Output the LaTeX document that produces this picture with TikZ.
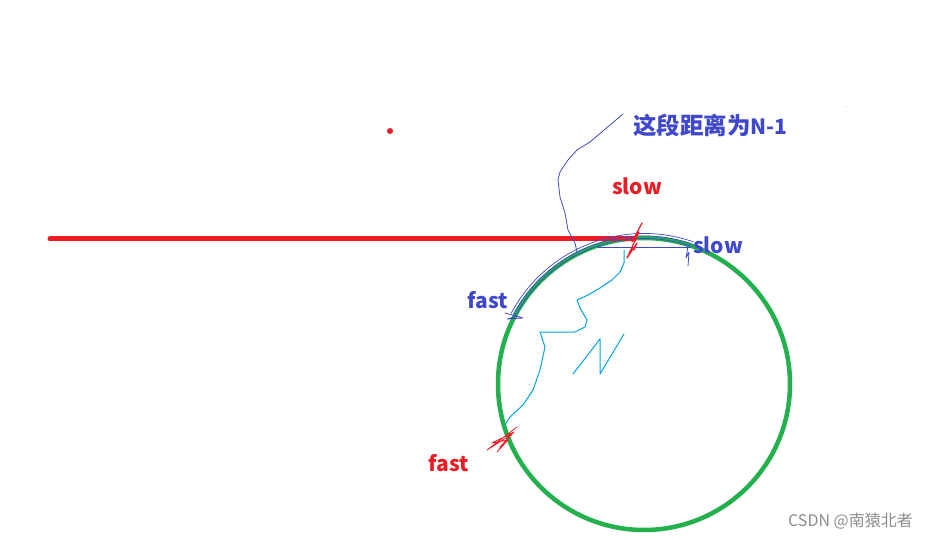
\documentclass[tikz,border=0pt]{standalone}
\usepackage{fontspec}
\setmainfont{Noto Sans CJK SC}
\newfontfamily\cjk{Noto Sans CJK SC}
\usetikzlibrary{positioning,calc}
\definecolor{penred}{RGB}{237,28,36}
\definecolor{penblue}{RGB}{63,72,204}
\definecolor{pencyan}{RGB}{0,162,232}
\definecolor{pengreen}{RGB}{34,177,76}
\tikzset
{
    label red/.style  = {text=penred, font=\cjk\bfseries\fontsize{21}{24}\selectfont, inner sep=0pt},
    label blue/.style = {text=penblue, font=\cjk\bfseries\fontsize{21}{24}\selectfont, inner sep=0pt},
    stroke/.style     = {line width=1pt, line join=round, line cap=round},
    track/.style      = {draw=pengreen, line width=4.5pt},
    tail/.style       = {draw=penred, line width=5pt, line cap=round}
}

\begin{document}
\begin{tikzpicture}[x=1pt, y=-1pt]
   \useasboundingbox (0, 0) rectangle (929, 540);

   % ring and tail
   \coordinate (o)      at (644, 384);
   \coordinate (start)  at (50, 239);
   \coordinate (entry)  at (634, 239);
   \draw[track] (o) circle (146);
   \draw[tail] (start) -- (entry);
   \fill[penred] (390, 131) circle (3);
   \fill[black!40] (846, 107) circle (0.5);

   % texts
   \node (dist)  [label blue, anchor=west] at (633, 125) {{\fontsize{23.5}{26}\selectfont 这段距离为}N-1};
   \node (sred)  [label red]               at (637, 186) {slow};
   \node (sblue) [label blue]              at (718, 245) {slow};
   \node (fblue) [label blue]              at (488, 300) {fast};
   \node (fred)  [label red]               at (449, 463) {fast};
   \node (mark)  [text=black!45, font=\cjk\fontsize{16}{18}\selectfont, anchor=east, inner sep=0pt]
                                           at (913, 521) {CSDN @南猿北者};

   % blue hand stroke
   \draw[stroke, penblue, line width=0.8pt]
      (623, 114) -- (610, 125) -- (590, 142) -- (577, 150) -- (568, 160) -- (560, 172)
      -- (558, 180) -- (560, 197) -- (565, 213) -- (568, 230) -- (575, 243) -- (577, 252);
   \foreach \r in {145.5, 148, 150.5}
      \draw[stroke, penblue, line width=0.7pt] ($(o)+(208:\r)$) arc (208:289:\r);
   \draw[stroke, penblue, line width=0.7pt] (598, 247) -- (690, 247);
   \draw[stroke, penblue, line width=0.8pt]
      (505, 313) -- (523, 318) -- (507, 319) -- (518, 316);
   \draw[stroke, penblue, line width=0.8pt]
      (688, 246) -- (686, 258) -- (689, 252) -- (688, 266);

   % cyan hand stroke
   \draw[stroke, pencyan]
      (624, 250) -- (624, 263) -- (620, 272) -- (612, 280) -- (600, 288) -- (588, 295)
      -- (577, 300) -- (580, 308) -- (587, 320) -- (585, 327) -- (575, 332) -- (540, 332)
      -- (545, 347) -- (540, 370) -- (533, 390) -- (523, 405) -- (510, 417) -- (505, 425);
   \draw[stroke, pencyan]
      (573, 374) -- (600, 339) -- (600, 374) -- (624, 334);

   % red scribbles
   \draw[stroke, penred, line width=1.2pt]
      (642, 223) -- (632, 242) -- (639, 232) -- (627, 258) -- (637, 243) -- (634, 250);
   \draw[stroke, penred, line width=0.8pt]
      (517, 427) -- (487, 450) -- (512, 434) -- (497, 452) -- (508, 440) -- (492, 443)
      -- (514, 432) -- (500, 447);
\end{tikzpicture}
\end{document}
